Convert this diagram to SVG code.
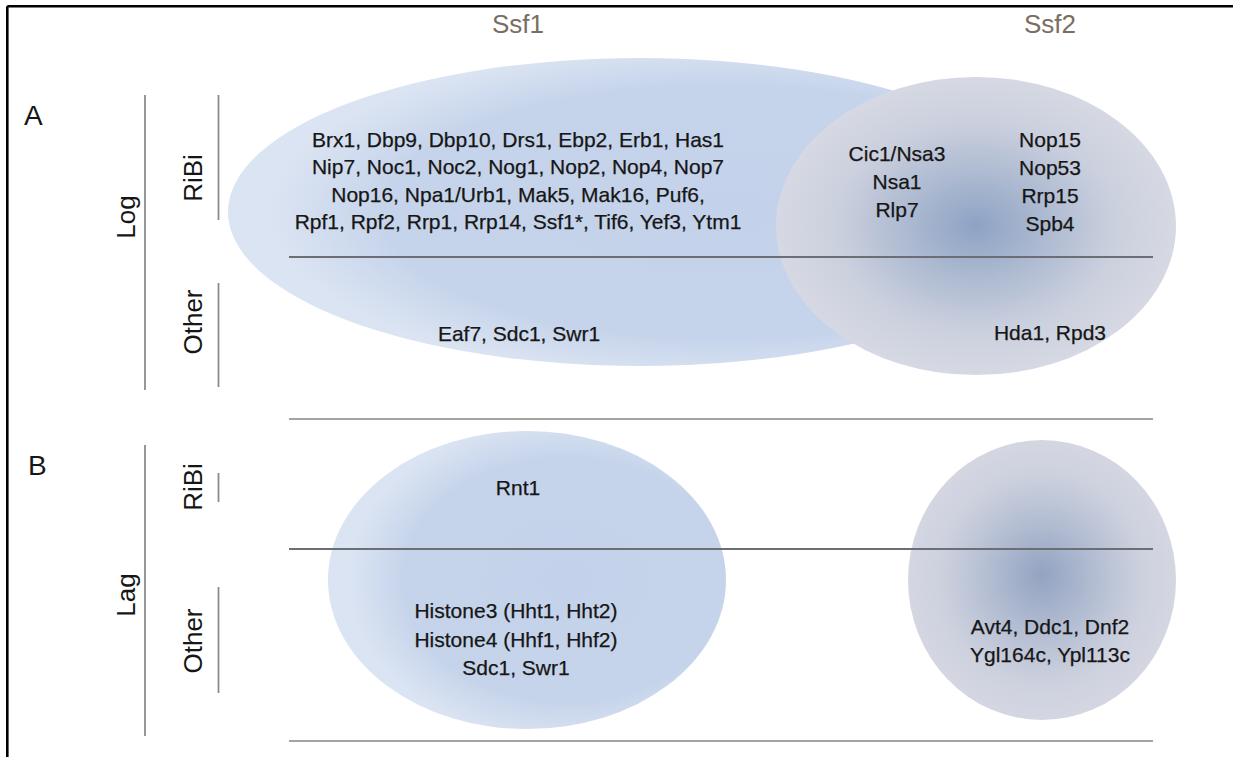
<svg xmlns="http://www.w3.org/2000/svg" width="1233" height="757" viewBox="0 0 1233 757">
<style>
text{font-family:"Liberation Sans",Arial,sans-serif;fill:#161616}
.t{font-size:21px;text-anchor:middle;stroke:#161616;stroke-width:0.25}
.hd{font-size:26px;text-anchor:middle;fill:#7a6e60}
.side{font-size:26px;text-anchor:middle}
.pan{font-size:28px}
.div{stroke:#6b6e74;stroke-width:2}
.sep{stroke:#a3a3a3;stroke-width:2}
.tick{stroke:#8c8c8c;stroke-width:1.8}
</style>
<defs>
<radialGradient id="blue" cx="0.6" cy="0.5" r="0.55">
<stop offset="0" stop-color="#c3d2ea"/>
<stop offset="0.75" stop-color="#c6d4eb"/>
<stop offset="1" stop-color="#dbe4f2"/>
</radialGradient>
<radialGradient id="gray1" cx="0.5" cy="0.5" r="0.5">
<stop offset="0" stop-color="#8da3c4"/>
<stop offset="0.35" stop-color="#adbad1"/>
<stop offset="0.7" stop-color="#cbd0de"/>
<stop offset="1" stop-color="#d6d9e3"/>
</radialGradient>
<radialGradient id="gray2" cx="0.5" cy="0.5" r="0.5" fx="0.5" fy="0.48">
<stop offset="0" stop-color="#93a3c1"/>
<stop offset="0.4" stop-color="#b3bdd2"/>
<stop offset="0.75" stop-color="#cdd1de"/>
<stop offset="1" stop-color="#d4d7e2"/>
</radialGradient>
</defs>
<rect x="0" y="0" width="1233" height="757" fill="#ffffff"/>
<g id="frame" stroke="#000" stroke-width="2.6" fill="none">
<line x1="7.3" y1="6.2" x2="1233" y2="6.2"/>
<line x1="7.3" y1="6.2" x2="7.3" y2="757"/>
</g>
<g id="headers">
<text class="hd" x="518" y="33">Ssf1</text>
<text class="hd" x="1050" y="33">Ssf2</text>
</g>
<g id="panel-labels">
<text class="pan" x="24" y="125">A</text>
<text class="pan" x="28" y="475">B</text>
</g>
<g id="row-labels">
<text class="side" transform="translate(135,217) rotate(-90)">Log</text>
<text class="side" transform="translate(202,178) rotate(-90)">RiBi</text>
<text class="side" transform="translate(202,322) rotate(-90)">Other</text>
<text class="side" transform="translate(135,595) rotate(-90)">Lag</text>
<text class="side" transform="translate(202,487) rotate(-90)">RiBi</text>
<text class="side" transform="translate(202,641) rotate(-90)">Other</text>
</g>
<g id="brackets">
<line class="tick" x1="145" y1="95" x2="145" y2="390"/>
<line class="tick" x1="218.5" y1="95" x2="218.5" y2="220"/>
<line class="tick" x1="218.5" y1="283" x2="218.5" y2="387"/>
<line class="tick" x1="145" y1="445" x2="145" y2="736"/>
<line class="tick" x1="218.5" y1="473" x2="218.5" y2="502"/>
<line class="tick" x1="218.5" y1="587" x2="218.5" y2="693"/>
</g>
<g id="log-ssf1">
<ellipse cx="640" cy="212" rx="412" ry="154" fill="url(#blue)"/>
</g>
<g id="log-ssf2">
<ellipse cx="976" cy="226" rx="200" ry="149" fill="url(#gray1)"/>
</g>
<g id="lag-ssf1">
<ellipse cx="527" cy="580" rx="199" ry="149" fill="url(#blue)"/>
</g>
<g id="lag-ssf2">
<ellipse cx="1042" cy="580" rx="134" ry="140" fill="url(#gray2)"/>
</g>
<g id="connectors">
<line class="div" x1="289" y1="257" x2="1153" y2="257"/>
<line class="sep" x1="289" y1="419" x2="1153" y2="419"/>
<line class="div" x1="289" y1="549" x2="1153" y2="549"/>
<line class="sep" x1="289" y1="741" x2="1153" y2="741"/>
</g>
<g id="log-ssf1-text">
<text class="t" x="518" y="146.5">Brx1, Dbp9, Dbp10, Drs1, Ebp2, Erb1, Has1</text>
<text class="t" x="518" y="174">Nip7, Noc1, Noc2, Nog1, Nop2, Nop4, Nop7</text>
<text class="t" x="518" y="201.5">Nop16, Npa1/Urb1, Mak5, Mak16, Puf6,</text>
<text class="t" x="518" y="229">Rpf1, Rpf2, Rrp1, Rrp14, Ssf1*, Tif6, Yef3, Ytm1</text>
<text class="t" x="519" y="341">Eaf7, Sdc1, Swr1</text>
</g>
<g id="log-overlap-text">
<text class="t" x="897" y="161">Cic1/Nsa3</text>
<text class="t" x="897" y="189">Nsa1</text>
<text class="t" x="897" y="217">Rlp7</text>
</g>
<g id="log-ssf2-text">
<text class="t" x="1050" y="146.5">Nop15</text>
<text class="t" x="1050" y="175">Nop53</text>
<text class="t" x="1050" y="203">Rrp15</text>
<text class="t" x="1050" y="230.5">Spb4</text>
<text class="t" x="1050" y="340">Hda1, Rpd3</text>
</g>
<g id="lag-ssf1-text">
<text class="t" x="518" y="495">Rnt1</text>
<text class="t" x="516" y="618">Histone3 (Hht1, Hht2)</text>
<text class="t" x="516" y="646.5">Histone4 (Hhf1, Hhf2)</text>
<text class="t" x="516" y="675">Sdc1, Swr1</text>
</g>
<g id="lag-ssf2-text">
<text class="t" x="1050" y="634">Avt4, Ddc1, Dnf2</text>
<text class="t" x="1050" y="662">Ygl164c, Ypl113c</text>
</g>
</svg>
